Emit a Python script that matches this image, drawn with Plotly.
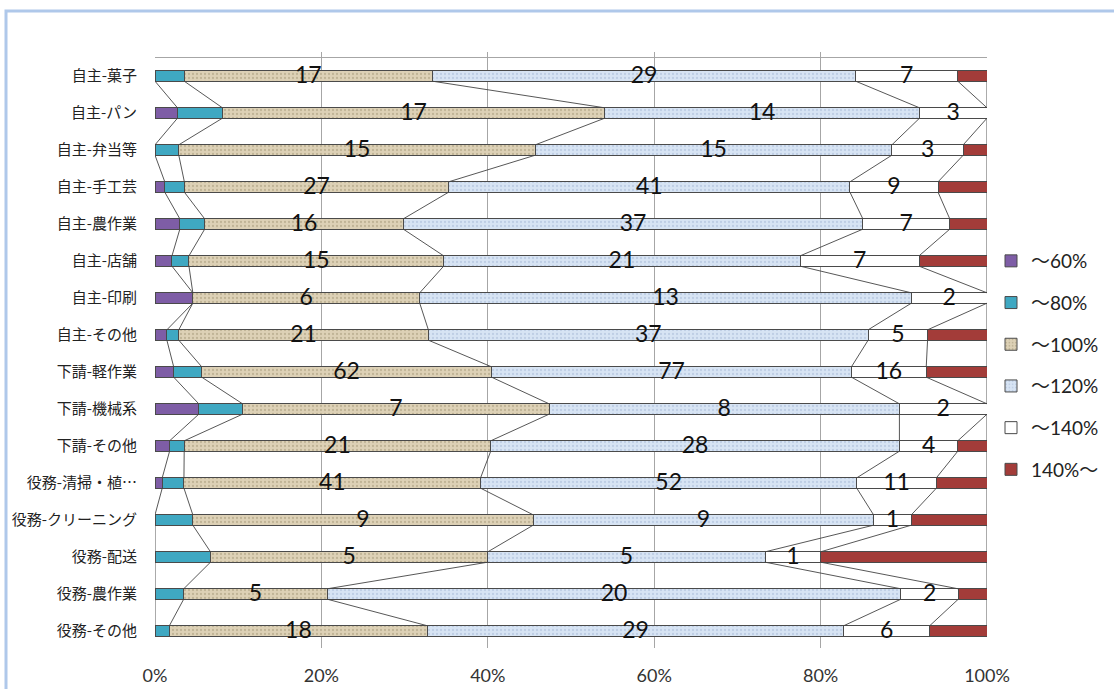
import numpy as np
import plotly.graph_objects as go

# Categories (top to bottom)
categories = ["自主-菓子", "自主-パン", "自主-弁当等", "自主-手工芸", "自主-農作業",
              "自主-店舗", "自主-印刷", "自主-その他", "下請-軽作業", "下請-機械系",
              "下請-その他", "役務-清掃・植…", "役務-クリーニング", "役務-配送",
              "役務-農作業", "役務-その他"]

# Number of workplaces in each wage band
band_60 = [0, 1, 0, 1, 2, 1, 1, 1, 4, 1, 1, 1, 0, 0, 0, 0]
band_80 = [2, 2, 1, 2, 2, 1, 0, 1, 6, 1, 1, 3, 1, 1, 1, 1]
band_100 = [17, 17, 15, 27, 16, 15, 6, 21, 62, 7, 21, 41, 9, 5, 5, 18]
band_120 = [29, 14, 15, 41, 37, 21, 13, 37, 77, 8, 28, 52, 9, 5, 20, 29]
band_140 = [7, 3, 3, 9, 7, 7, 2, 5, 16, 2, 4, 11, 1, 1, 2, 6]
band_over = [2, 0, 1, 5, 3, 4, 0, 5, 13, 0, 2, 7, 2, 3, 1, 4]

series_names = ["～60%", "～80%", "～100%", "～120%", "～140%", "140%～"]
x_ticks = [0, 20, 40, 60, 80, 100]
x_tick_labels = ["0%", "20%", "40%", "60%", "80%", "100%"]

series = [band_60, band_80, band_100, band_120, band_140, band_over]
colors = ["#7E5DA6", "#3FA8C2", "#DDD1B6", "#D7E4F4", "#FFFFFF", "#A33C39"]
pattern_fg = [None, None, "#A89A7C", "#A9BCD6", None, None]
labelled = [False, False, True, True, True, False]

BAR_W = 0.28
EDGE = "#4A4A4A"
NUM_FONT = "Lato, Noto Sans CJK JP, sans-serif"
JP_FONT = "Noto Sans CJK JP, sans-serif"

ypos = np.arange(len(categories))
counts = np.array(series, dtype=float)           # shape (6, n)
totals = counts.sum(axis=0)
shares = counts / totals * 100.0
cum_right = np.cumsum(shares, axis=0)
cum_left = cum_right - shares

fig = go.Figure()

for k, name in enumerate(series_names):
    vals = [v if v > 0 else None for v in series[k]]
    marker = dict(color=colors[k], line=dict(color=EDGE, width=1))
    if pattern_fg[k]:
        marker["pattern"] = dict(shape=".", fillmode="overlay", fgcolor=pattern_fg[k],
                                 fgopacity=0.55, size=4, solidity=0.25)
    fig.add_trace(go.Bar(
        x=vals, y=ypos, orientation="h", name=name, width=BAR_W,
        marker=marker, legendgroup=name, hoverinfo="skip",
    ))

# Series lines joining the segment edges of neighbouring bars
for k in range(len(series)):
    xs, ys = [], []
    for i in range(len(categories) - 1):
        xs += [cum_right[k, i], cum_right[k, i + 1], None]
        ys += [ypos[i] + BAR_W / 2, ypos[i + 1] - BAR_W / 2, None]
    fig.add_trace(go.Scatter(
        x=xs, y=ys, mode="lines", line=dict(color="#444444", width=0.9),
        showlegend=False, hoverinfo="skip",
    ))

# Count labels centred in the labelled segments
for k in range(len(series)):
    if not labelled[k]:
        continue
    mid = (cum_left[k] + cum_right[k]) / 2
    fig.add_trace(go.Scatter(
        x=mid, y=ypos + 0.04, mode="text",
        text=[str(v) for v in series[k]],
        textfont=dict(family=NUM_FONT, size=23, color="#111111"),
        textposition="middle center", showlegend=False, hoverinfo="skip",
    ))

W, H = 1114, 689
L, R, T, B = 155, 127, 52, 41
pw, ph = W - L - R, H - T - B


def px_x(p):
    return (p - L) / pw


def px_y(p):
    return (H - B - p) / ph


row0, step = 76, 37
y_top = (T - row0) / step
y_bot = (H - B - row0) / step

fig.update_layout(
    width=W, height=H,
    margin=dict(l=L, r=R, t=T, b=B, pad=0, autoexpand=False),
    barmode="stack", barnorm="percent",
    paper_bgcolor="white", plot_bgcolor="white",
    showlegend=True,
    legend=dict(
        x=px_x(991), xanchor="left", y=px_y(242), yanchor="top",
        font=dict(family=NUM_FONT, size=19, color="#222222"),
        tracegroupgap=14, itemwidth=30, bgcolor="rgba(0,0,0,0)",
    ),
    xaxis=dict(
        range=[0, 100], tickvals=x_ticks, ticktext=x_tick_labels,
        showgrid=True, gridcolor="#A6A6A6", gridwidth=1,
        zeroline=False, showline=False, ticks="", automargin=False,
        tickfont=dict(family=NUM_FONT, size=18, color="#333333"),
        ticklabelstandoff=15, fixedrange=True,
    ),
    yaxis=dict(
        range=[y_bot, y_top], tickvals=list(ypos), ticktext=categories,
        showgrid=False, zeroline=False, showline=False, ticks="", automargin=False,
        tickfont=dict(family=JP_FONT, size=15, color="#222222"),
        ticklabelstandoff=17, fixedrange=True,
    ),
    shapes=[
        # top edge of the plot area
        dict(type="line", xref="x", yref="y", x0=0, x1=100, y0=-0.5, y1=-0.5,
             line=dict(color="#A6A6A6", width=1)),
        # outer chart frame
        dict(type="rect", xref="paper", yref="paper",
             x0=px_x(6), x1=px_x(1125), y0=px_y(700), y1=px_y(11),
             line=dict(color="#AFC8EA", width=3), fillcolor="rgba(0,0,0,0)",
             layer="below"),
    ],
)

fig.write_html("out.html", include_plotlyjs=True, config={"displayModeBar": False})
